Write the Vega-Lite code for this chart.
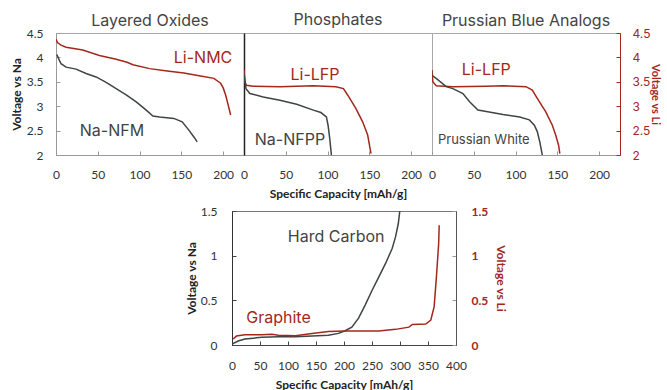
{
  "$schema": "https://vega.github.io/schema/vega-lite/v6.json",
  "background": "white",
  "padding": {"left": 9, "top": 11, "right": 0, "bottom": 0},
  "config": {
    "view": {"stroke": "#a8a8a8", "strokeWidth": 1},
    "axis": {
      "labelFont": "Lato", "labelFontSize": 12, "labelColor": "#333",
      "titleFont": "Lato", "titleFontWeight": "bold", "titleFontSize": 12, "titleColor": "#222",
      "grid": false, "domainColor": "#999", "tickColor": "#999", "tickSize": -4,
      "labelFlush": false, "labelOverlap": false, "labelBound": false
    },
    "title": {"font": "Inter", "fontSize": 16, "fontWeight": "normal", "color": "#444"},
    "line": {"strokeWidth": 1.5},
    "text": {"font": "Inter", "fontSize": 16, "align": "center", "baseline": "middle"}
  },
  "datasets": {
    "curves": [
      {"panel": "LO", "series": "Li-NMC", "ion": "Li", "x": 0, "y": 4.37},
      {"panel": "LO", "series": "Li-NMC", "ion": "Li", "x": 2, "y": 4.3},
      {"panel": "LO", "series": "Li-NMC", "ion": "Li", "x": 6, "y": 4.25},
      {"panel": "LO", "series": "Li-NMC", "ion": "Li", "x": 12, "y": 4.21},
      {"panel": "LO", "series": "Li-NMC", "ion": "Li", "x": 32, "y": 4.15},
      {"panel": "LO", "series": "Li-NMC", "ion": "Li", "x": 52, "y": 4.04},
      {"panel": "LO", "series": "Li-NMC", "ion": "Li", "x": 72, "y": 3.96},
      {"panel": "LO", "series": "Li-NMC", "ion": "Li", "x": 85, "y": 3.9},
      {"panel": "LO", "series": "Li-NMC", "ion": "Li", "x": 92, "y": 3.85},
      {"panel": "LO", "series": "Li-NMC", "ion": "Li", "x": 112, "y": 3.77},
      {"panel": "LO", "series": "Li-NMC", "ion": "Li", "x": 133, "y": 3.72},
      {"panel": "LO", "series": "Li-NMC", "ion": "Li", "x": 153, "y": 3.68},
      {"panel": "LO", "series": "Li-NMC", "ion": "Li", "x": 173, "y": 3.62},
      {"panel": "LO", "series": "Li-NMC", "ion": "Li", "x": 189, "y": 3.57},
      {"panel": "LO", "series": "Li-NMC", "ion": "Li", "x": 197, "y": 3.47},
      {"panel": "LO", "series": "Li-NMC", "ion": "Li", "x": 200, "y": 3.38},
      {"panel": "LO", "series": "Li-NMC", "ion": "Li", "x": 203, "y": 3.23},
      {"panel": "LO", "series": "Li-NMC", "ion": "Li", "x": 206, "y": 3.03},
      {"panel": "LO", "series": "Li-NMC", "ion": "Li", "x": 209, "y": 2.82},
      {"panel": "LO", "series": "Na-NFM", "ion": "Na", "x": 1, "y": 4.06},
      {"panel": "LO", "series": "Na-NFM", "ion": "Na", "x": 3, "y": 3.98},
      {"panel": "LO", "series": "Na-NFM", "ion": "Na", "x": 6, "y": 3.87},
      {"panel": "LO", "series": "Na-NFM", "ion": "Na", "x": 12, "y": 3.8},
      {"panel": "LO", "series": "Na-NFM", "ion": "Na", "x": 24, "y": 3.76},
      {"panel": "LO", "series": "Na-NFM", "ion": "Na", "x": 36, "y": 3.67},
      {"panel": "LO", "series": "Na-NFM", "ion": "Na", "x": 48, "y": 3.6},
      {"panel": "LO", "series": "Na-NFM", "ion": "Na", "x": 60, "y": 3.49},
      {"panel": "LO", "series": "Na-NFM", "ion": "Na", "x": 72, "y": 3.36},
      {"panel": "LO", "series": "Na-NFM", "ion": "Na", "x": 84, "y": 3.23},
      {"panel": "LO", "series": "Na-NFM", "ion": "Na", "x": 96, "y": 3.09},
      {"panel": "LO", "series": "Na-NFM", "ion": "Na", "x": 108, "y": 2.92},
      {"panel": "LO", "series": "Na-NFM", "ion": "Na", "x": 116, "y": 2.8},
      {"panel": "LO", "series": "Na-NFM", "ion": "Na", "x": 124, "y": 2.78},
      {"panel": "LO", "series": "Na-NFM", "ion": "Na", "x": 141, "y": 2.75},
      {"panel": "LO", "series": "Na-NFM", "ion": "Na", "x": 151, "y": 2.68},
      {"panel": "LO", "series": "Na-NFM", "ion": "Na", "x": 159, "y": 2.51},
      {"panel": "LO", "series": "Na-NFM", "ion": "Na", "x": 165, "y": 2.37},
      {"panel": "LO", "series": "Na-NFM", "ion": "Na", "x": 169, "y": 2.27},
      {"panel": "PH", "series": "Li-LFP", "ion": "Li", "x": 0, "y": 3.74},
      {"panel": "PH", "series": "Li-LFP", "ion": "Li", "x": 1, "y": 3.5},
      {"panel": "PH", "series": "Li-LFP", "ion": "Li", "x": 3, "y": 3.43},
      {"panel": "PH", "series": "Li-LFP", "ion": "Li", "x": 11, "y": 3.41},
      {"panel": "PH", "series": "Li-LFP", "ion": "Li", "x": 43, "y": 3.4},
      {"panel": "PH", "series": "Li-LFP", "ion": "Li", "x": 83, "y": 3.42},
      {"panel": "PH", "series": "Li-LFP", "ion": "Li", "x": 110, "y": 3.4},
      {"panel": "PH", "series": "Li-LFP", "ion": "Li", "x": 119, "y": 3.36},
      {"panel": "PH", "series": "Li-LFP", "ion": "Li", "x": 124, "y": 3.23},
      {"panel": "PH", "series": "Li-LFP", "ion": "Li", "x": 134, "y": 2.95},
      {"panel": "PH", "series": "Li-LFP", "ion": "Li", "x": 142, "y": 2.68},
      {"panel": "PH", "series": "Li-LFP", "ion": "Li", "x": 148, "y": 2.41},
      {"panel": "PH", "series": "Li-LFP", "ion": "Li", "x": 152, "y": 2.03},
      {"panel": "PH", "series": "Na-NFPP", "ion": "Na", "x": 0, "y": 3.67},
      {"panel": "PH", "series": "Na-NFPP", "ion": "Na", "x": 2.4, "y": 3.36},
      {"panel": "PH", "series": "Na-NFPP", "ion": "Na", "x": 7, "y": 3.26},
      {"panel": "PH", "series": "Na-NFPP", "ion": "Na", "x": 23, "y": 3.19},
      {"panel": "PH", "series": "Na-NFPP", "ion": "Na", "x": 43, "y": 3.12},
      {"panel": "PH", "series": "Na-NFPP", "ion": "Na", "x": 63, "y": 3.04},
      {"panel": "PH", "series": "Na-NFPP", "ion": "Na", "x": 83, "y": 2.92},
      {"panel": "PH", "series": "Na-NFPP", "ion": "Na", "x": 92, "y": 2.87},
      {"panel": "PH", "series": "Na-NFPP", "ion": "Na", "x": 98.6, "y": 2.78},
      {"panel": "PH", "series": "Na-NFPP", "ion": "Na", "x": 100.6, "y": 2.61},
      {"panel": "PH", "series": "Na-NFPP", "ion": "Na", "x": 102.6, "y": 2.34},
      {"panel": "PH", "series": "Na-NFPP", "ion": "Na", "x": 104.6, "y": 2.0},
      {"panel": "PB", "series": "Li-LFP", "ion": "Li", "x": 0, "y": 3.74},
      {"panel": "PB", "series": "Li-LFP", "ion": "Li", "x": 1, "y": 3.5},
      {"panel": "PB", "series": "Li-LFP", "ion": "Li", "x": 5, "y": 3.42},
      {"panel": "PB", "series": "Li-LFP", "ion": "Li", "x": 25, "y": 3.4},
      {"panel": "PB", "series": "Li-LFP", "ion": "Li", "x": 65, "y": 3.41},
      {"panel": "PB", "series": "Li-LFP", "ion": "Li", "x": 85, "y": 3.42},
      {"panel": "PB", "series": "Li-LFP", "ion": "Li", "x": 112.5, "y": 3.4},
      {"panel": "PB", "series": "Li-LFP", "ion": "Li", "x": 120, "y": 3.33},
      {"panel": "PB", "series": "Li-LFP", "ion": "Li", "x": 126, "y": 3.16},
      {"panel": "PB", "series": "Li-LFP", "ion": "Li", "x": 136, "y": 2.89},
      {"panel": "PB", "series": "Li-LFP", "ion": "Li", "x": 144, "y": 2.61},
      {"panel": "PB", "series": "Li-LFP", "ion": "Li", "x": 148, "y": 2.41},
      {"panel": "PB", "series": "Li-LFP", "ion": "Li", "x": 151.5, "y": 2.2},
      {"panel": "PB", "series": "Li-LFP", "ion": "Li", "x": 153, "y": 2.03},
      {"panel": "PB", "series": "Prussian White", "ion": "Na", "x": 0, "y": 3.63},
      {"panel": "PB", "series": "Prussian White", "ion": "Na", "x": 5, "y": 3.57},
      {"panel": "PB", "series": "Prussian White", "ion": "Na", "x": 17, "y": 3.4},
      {"panel": "PB", "series": "Prussian White", "ion": "Na", "x": 25, "y": 3.36},
      {"panel": "PB", "series": "Prussian White", "ion": "Na", "x": 37, "y": 3.26},
      {"panel": "PB", "series": "Prussian White", "ion": "Na", "x": 45, "y": 3.09},
      {"panel": "PB", "series": "Prussian White", "ion": "Na", "x": 55, "y": 2.92},
      {"panel": "PB", "series": "Prussian White", "ion": "Na", "x": 65, "y": 2.89},
      {"panel": "PB", "series": "Prussian White", "ion": "Na", "x": 85, "y": 2.83},
      {"panel": "PB", "series": "Prussian White", "ion": "Na", "x": 105, "y": 2.78},
      {"panel": "PB", "series": "Prussian White", "ion": "Na", "x": 116.5, "y": 2.72},
      {"panel": "PB", "series": "Prussian White", "ion": "Na", "x": 122.5, "y": 2.61},
      {"panel": "PB", "series": "Prussian White", "ion": "Na", "x": 126, "y": 2.48},
      {"panel": "PB", "series": "Prussian White", "ion": "Na", "x": 129, "y": 2.27},
      {"panel": "PB", "series": "Prussian White", "ion": "Na", "x": 132, "y": 2.0},
      {"panel": "AN", "series": "Hard Carbon", "ion": "Na", "x": 0, "y": 0.01},
      {"panel": "AN", "series": "Hard Carbon", "ion": "Na", "x": 11, "y": 0.045},
      {"panel": "AN", "series": "Hard Carbon", "ion": "Na", "x": 23, "y": 0.067},
      {"panel": "AN", "series": "Hard Carbon", "ion": "Na", "x": 53, "y": 0.086},
      {"panel": "AN", "series": "Hard Carbon", "ion": "Na", "x": 83, "y": 0.093},
      {"panel": "AN", "series": "Hard Carbon", "ion": "Na", "x": 113, "y": 0.093},
      {"panel": "AN", "series": "Hard Carbon", "ion": "Na", "x": 143, "y": 0.1},
      {"panel": "AN", "series": "Hard Carbon", "ion": "Na", "x": 172, "y": 0.11},
      {"panel": "AN", "series": "Hard Carbon", "ion": "Na", "x": 190, "y": 0.13},
      {"panel": "AN", "series": "Hard Carbon", "ion": "Na", "x": 202, "y": 0.16},
      {"panel": "AN", "series": "Hard Carbon", "ion": "Na", "x": 214, "y": 0.2},
      {"panel": "AN", "series": "Hard Carbon", "ion": "Na", "x": 226, "y": 0.3},
      {"panel": "AN", "series": "Hard Carbon", "ion": "Na", "x": 238, "y": 0.45},
      {"panel": "AN", "series": "Hard Carbon", "ion": "Na", "x": 250, "y": 0.61},
      {"panel": "AN", "series": "Hard Carbon", "ion": "Na", "x": 262, "y": 0.76},
      {"panel": "AN", "series": "Hard Carbon", "ion": "Na", "x": 274, "y": 0.91},
      {"panel": "AN", "series": "Hard Carbon", "ion": "Na", "x": 286, "y": 1.08},
      {"panel": "AN", "series": "Hard Carbon", "ion": "Na", "x": 292, "y": 1.21},
      {"panel": "AN", "series": "Hard Carbon", "ion": "Na", "x": 297, "y": 1.36},
      {"panel": "AN", "series": "Hard Carbon", "ion": "Na", "x": 300, "y": 1.52},
      {"panel": "AN", "series": "Graphite", "ion": "Li", "x": 2, "y": 0.067},
      {"panel": "AN", "series": "Graphite", "ion": "Li", "x": 8, "y": 0.1},
      {"panel": "AN", "series": "Graphite", "ion": "Li", "x": 23, "y": 0.115},
      {"panel": "AN", "series": "Graphite", "ion": "Li", "x": 53, "y": 0.115},
      {"panel": "AN", "series": "Graphite", "ion": "Li", "x": 71, "y": 0.12},
      {"panel": "AN", "series": "Graphite", "ion": "Li", "x": 83, "y": 0.11},
      {"panel": "AN", "series": "Graphite", "ion": "Li", "x": 113, "y": 0.104},
      {"panel": "AN", "series": "Graphite", "ion": "Li", "x": 143, "y": 0.13},
      {"panel": "AN", "series": "Graphite", "ion": "Li", "x": 172, "y": 0.15},
      {"panel": "AN", "series": "Graphite", "ion": "Li", "x": 202, "y": 0.156},
      {"panel": "AN", "series": "Graphite", "ion": "Li", "x": 232, "y": 0.156},
      {"panel": "AN", "series": "Graphite", "ion": "Li", "x": 262, "y": 0.156},
      {"panel": "AN", "series": "Graphite", "ion": "Li", "x": 292, "y": 0.175},
      {"panel": "AN", "series": "Graphite", "ion": "Li", "x": 316, "y": 0.2},
      {"panel": "AN", "series": "Graphite", "ion": "Li", "x": 322, "y": 0.23},
      {"panel": "AN", "series": "Graphite", "ion": "Li", "x": 346, "y": 0.235},
      {"panel": "AN", "series": "Graphite", "ion": "Li", "x": 355, "y": 0.28},
      {"panel": "AN", "series": "Graphite", "ion": "Li", "x": 361, "y": 0.43},
      {"panel": "AN", "series": "Graphite", "ion": "Li", "x": 365, "y": 0.76},
      {"panel": "AN", "series": "Graphite", "ion": "Li", "x": 369, "y": 1.13},
      {"panel": "AN", "series": "Graphite", "ion": "Li", "x": 370, "y": 1.34}
    ],
    "notes": [
      {"panel": "LO", "label": "Li-NMC", "ion": "Li", "x": 176, "y": 3.98},
      {"panel": "LO", "label": "Na-NFM", "ion": "Na", "x": 67, "y": 2.5},
      {"panel": "PH", "label": "Li-LFP", "ion": "Li", "x": 85, "y": 3.63},
      {"panel": "PH", "label": "Na-NFPP", "ion": "Na", "x": 55, "y": 2.31},
      {"panel": "PB", "label": "Li-LFP", "ion": "Li", "x": 65, "y": 3.74},
      {"panel": "PB", "label": "Prussian White", "ion": "Na", "x": 62, "y": 2.31},
      {"panel": "AN", "label": "Hard Carbon", "ion": "Na", "x": 186, "y": 1.21},
      {"panel": "AN", "label": "Graphite", "ion": "Li", "x": 83, "y": 0.3}
    ]
  },
  "spacing": 4,
  "center": false,
  "vconcat": [
    {
      "spacing": 0,
      "bounds": "flush",
      "hconcat": [
        {
          "width": 188, "height": 122,
          "title": {"text": "Layered Oxides", "offset": -2},
          "encoding": {
            "x": {"field": "x", "type": "quantitative", "scale": {"domain": [0, 225], "nice": false},
                  "axis": {"values": [0, 50, 100, 150, 200], "title": null, "labelPadding": 18}},
            "y": {"field": "y", "type": "quantitative", "scale": {"domain": [2, 4.5], "nice": false},
                  "axis": {"values": [2, 2.5, 3, 3.5, 4, 4.5], "format": "~f", "title": "Voltage vs Na", "labelPadding": 17, "titlePadding": 3}},
            "color": {"field": "ion", "type": "nominal", "scale": {"domain": ["Na", "Li"], "range": ["#3f4444", "#a3281c"]}, "legend": null}
          },
          "layer": [
            {
              "data": {"name": "curves"},
              "transform": [{"filter": "datum.panel === 'LO'"}],
              "mark": {"type": "line", "clip": true},
              "encoding": {"detail": {"field": "series"}}
            },
            {
              "data": {"name": "notes"},
              "transform": [{"filter": "datum.panel === 'LO'"}],
              "mark": {"type": "text"},
              "encoding": {"text": {"field": "label"}}
            }
          ]
        },
        {
          "width": 188, "height": 122,
          "title": {"text": "Phosphates", "offset": 5},
          "encoding": {
            "x": {"field": "x", "type": "quantitative", "scale": {"domain": [0, 225], "nice": false},
                  "axis": {"values": [0, 50, 100, 150, 200], "title": "Specific Capacity [mAh/g]", "labelPadding": 18, "titlePadding": 8}},
            "y": {"field": "y", "type": "quantitative", "scale": {"domain": [2, 4.5], "nice": false},
                  "axis": {"title": null, "labels": false, "ticks": false, "domainColor": "#222", "domainWidth": 1.5}},
            "color": {"field": "ion", "type": "nominal", "scale": {"domain": ["Na", "Li"], "range": ["#3f4444", "#a3281c"]}, "legend": null}
          },
          "layer": [
            {
              "data": {"name": "curves"},
              "transform": [{"filter": "datum.panel === 'PH'"}],
              "mark": {"type": "line", "clip": true},
              "encoding": {"detail": {"field": "series"}}
            },
            {
              "data": {"name": "notes"},
              "transform": [{"filter": "datum.panel === 'PH'"}],
              "mark": {"type": "text"},
              "encoding": {"text": {"field": "label"}}
            }
          ]
        },
        {
          "width": 188, "height": 122,
          "title": {"text": "Prussian Blue Analogs", "offset": -2},
          "encoding": {
            "x": {"field": "x", "type": "quantitative", "scale": {"domain": [0, 225], "nice": false},
                  "axis": {"values": [0, 50, 100, 150, 200], "title": null, "labelPadding": 18}},
            "y": {"field": "y", "type": "quantitative", "scale": {"domain": [2, 4.5], "nice": false},
                  "axis": {"orient": "right", "values": [2, 2.5, 3, 3.5, 4, 4.5], "format": "~f", "title": "Voltage vs Li",
                           "labelFont": "Inter", "labelColor": "#a3281c", "titleColor": "#a3281c", "titleFontSize": 11, "domainColor": "#a3281c", "tickColor": "#a3281c",
                           "labelPadding": 16, "titlePadding": 0}},
            "color": {"field": "ion", "type": "nominal", "scale": {"domain": ["Na", "Li"], "range": ["#3f4444", "#a3281c"]}, "legend": null}
          },
          "layer": [
            {
              "data": {"name": "curves"},
              "transform": [{"filter": "datum.panel === 'PB'"}],
              "mark": {"type": "line", "clip": true},
              "encoding": {"detail": {"field": "series"}}
            },
            {
              "data": {"name": "notes"},
              "transform": [{"filter": "datum.panel === 'PB' && datum.ion === 'Li'"}],
              "mark": {"type": "text"},
              "encoding": {"text": {"field": "label"}}
            },
            {
              "data": {"name": "notes"},
              "transform": [{"filter": "datum.panel === 'PB' && datum.ion === 'Na'"}],
              "mark": {"type": "text", "fontSize": 13},
              "encoding": {"text": {"field": "label"}}
            }
          ]
        }
      ]
    },
    {
      "spacing": 0,
      "hconcat": [
        {
          "width": 128, "height": 134,
          "view": {"stroke": null},
          "data": {"values": []},
          "mark": "point"
        },
        {
          "width": 224, "height": 134,
          "view": {"stroke": "#777"},
          "resolve": {"scale": {"y": "independent"}},
          "encoding": {
            "x": {"field": "x", "type": "quantitative", "scale": {"domain": [0, 400], "nice": false},
                  "axis": {"values": [0, 50, 100, 150, 200, 250, 300, 350, 400], "title": "Specific Capacity [mAh/g]", "labelPadding": 19, "titlePadding": 8, "domainColor": "#444", "tickColor": "#444"}},
            "color": {"field": "ion", "type": "nominal", "scale": {"domain": ["Na", "Li"], "range": ["#3f4444", "#a3281c"]}, "legend": null}
          },
          "layer": [
            {
              "data": {"name": "curves"},
              "transform": [{"filter": "datum.panel === 'AN'"}],
              "mark": {"type": "line", "clip": true},
              "encoding": {
                "y": {"field": "y", "type": "quantitative", "scale": {"domain": [0, 1.5], "nice": false},
                      "axis": {"values": [0, 0.5, 1, 1.5], "format": "~f", "title": "Voltage vs Na", "labelPadding": 19, "titlePadding": 2, "domainColor": "#333", "tickColor": "#444"}},
                "detail": {"field": "series"}
              }
            },
            {
              "data": {"name": "notes"},
              "transform": [{"filter": "datum.panel === 'AN'"}],
              "mark": {"type": "text"},
              "encoding": {
                "y": {"field": "y", "type": "quantitative", "scale": {"domain": [0, 1.5], "nice": false},
                      "axis": {"orient": "right", "values": [0, 0.5, 1, 1.5], "format": "~f", "title": "Voltage vs Li",
                               "labelColor": "#a3281c", "labelFontWeight": "bold", "titleColor": "#a3281c", "domainColor": "#555", "tickColor": "#999",
                               "labelPadding": 19, "titlePadding": 6}},
                "text": {"field": "label"}
              }
            }
          ]
        }
      ]
    }
  ]
}
